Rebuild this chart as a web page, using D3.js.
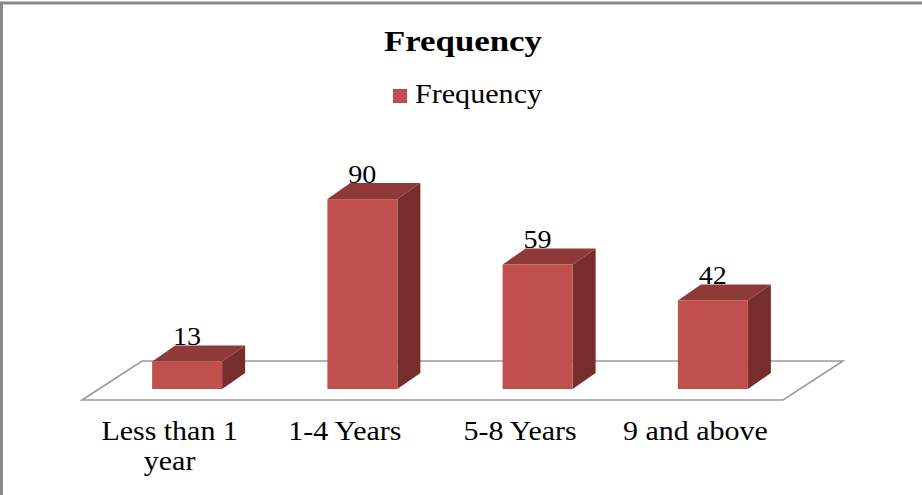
<!DOCTYPE html>
<html><head><meta charset="utf-8">
<script src="https://cdn.jsdelivr.net/npm/d3@7"></script>
<style>
html,body{margin:0;padding:0;background:#fff;}
svg{display:block;}
</style></head>
<body>
<svg id="c" width="922" height="495"></svg>
<script>
const categories = ["Less than 1 year", "1-4 Years", "5-8 Years", "9 and above"];
const categoryLines = [["Less than 1", "year"], ["1-4 Years"], ["5-8 Years"], ["9 and above"]];
const seriesName = "Frequency";
const chartTitle = "Frequency";
const values = [13, 90, 59, 42];

const FONT = "'Liberation Serif', 'Times New Roman', Times, serif";
const svg = d3.select("#c").attr("font-family", FONT);
const W = 922, H = 495;

// widen text horizontally like the reference rendering
function stretch(sel, k) {
  sel.each(function() {
    const n = this.getComputedTextLength();
    d3.select(this).attr("textLength", n * k).attr("lengthAdjust", "spacingAndGlyphs");
  });
}

// outer border
svg.append("rect").attr("x",1.5).attr("y",3).attr("width",W+10).attr("height",H+10)
  .attr("fill","#fff").attr("stroke","#8a8a8a").attr("stroke-width",3);

// title
const title = svg.append("text").attr("x",463).attr("y",51).attr("text-anchor","middle")
  .attr("font-family",FONT).attr("font-size",30).attr("font-weight","bold").text(chartTitle);
stretch(title, 1.16);

// legend
svg.append("rect").attr("x",393).attr("y",89).attr("width",14).attr("height",14).attr("fill","#c0504d");
const leg = svg.append("text").attr("x",415).attr("y",103).attr("font-family",FONT).attr("font-size",28).text(seriesName);
stretch(leg, 1.075);

// 3D geometry
const floorFront = 400, floorLeft = 82, floorRight = 783;
const depthDx = 60, depthDy = -39;
const barDx = 23, barDy = -16;
const x = d3.scaleBand().domain(categories).range([floorLeft, floorRight]).paddingInner(0).paddingOuter(0);
const y = d3.scaleLinear().domain([0, 100]).range([389, 178]);
const barW = 70, shiftX = 17.5;

// floor
svg.append("path")
  .attr("d", `M${floorLeft},${floorFront} L${floorRight},${floorFront} L${floorRight+depthDx},${floorFront+depthDy} L${floorLeft+depthDx},${floorFront+depthDy} Z`)
  .attr("fill","#fff").attr("stroke","#9a9a9a").attr("stroke-width",1.6);

const g = svg.append("g");
categories.forEach((c,i)=>{
  const cx = x(c) + x.bandwidth()/2 + shiftX;
  const x0 = cx - barW/2, x1 = cx + barW/2;
  const yb = y(0), yt = y(values[i]);
  g.append("path").attr("d",`M${x1},${yt} L${x1+barDx},${yt+barDy} L${x1+barDx},${yb+barDy} L${x1},${yb} Z`)
    .attr("fill","#772d2b");
  g.append("path").attr("d",`M${x0},${yt} L${x0+barDx},${yt+barDy} L${x1+barDx},${yt+barDy} L${x1},${yt} Z`)
    .attr("fill","#8f3a38");
  g.append("rect").attr("x",x0).attr("y",yt).attr("width",barW).attr("height",yb-yt).attr("fill","#c0504d");
  const vl = g.append("text").attr("x",cx).attr("y",yt+barDy-0.5).attr("text-anchor","middle")
    .attr("font-family",FONT).attr("font-size",26).text(values[i]);
  stretch(vl, 1.08);
  categoryLines[i].forEach((ln,j)=>{
    const t = svg.append("text").attr("text-anchor","middle").attr("font-family",FONT).attr("font-size",28)
      .attr("x", x(c)+x.bandwidth()/2).attr("y", 440 + j*30).text(ln);
    stretch(t, 1.07);
  });
});
</script>
</body></html>
